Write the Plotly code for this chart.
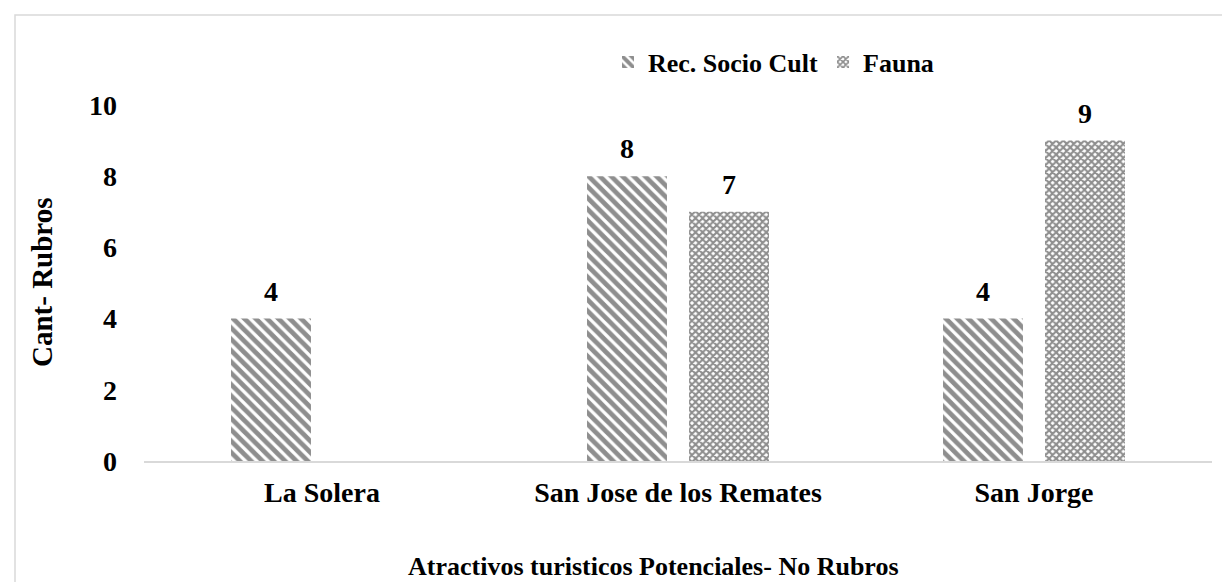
import plotly.graph_objects as go

categories = ["La Solera", "San Jose de los Remates", "San Jorge"]
rec_socio = [4, 8, 4]
fauna = [None, 7, 9]
series_names = ["Rec. Socio Cult", "Fauna"]
y_ticks = [0, 2, 4, 6, 8, 10]

FONT = "Liberation Serif"
W, H = 1230, 582
ML, MR, MT, MB = 136, 26, 97, 129
PW, PH = W - ML - MR, H - MT - MB
PAT = "#1e1e1e"

fig = go.Figure()
fig.add_trace(go.Bar(
    name=series_names[0], x=categories, y=rec_socio,
    marker=dict(color="white", line=dict(width=0),
                pattern=dict(shape="\\", fgcolor=PAT, bgcolor="white", size=8, solidity=0.6)),
))
fig.add_trace(go.Bar(
    name=series_names[1], x=categories, y=fauna,
    marker=dict(color="white", line=dict(width=0),
                pattern=dict(shape="x", fgcolor=PAT, bgcolor="white", size=5, solidity=0.65)),
))

# data labels
cat_w = PW / len(categories)
bargap, groupgap = 0.427, 0.216
slot = cat_w * (1 - bargap) / 2
annotations = []
for si, vals in enumerate([rec_socio, fauna]):
    shift = (si - 0.5) * slot
    for c, v in zip(categories, vals):
        if v is None:
            continue
        annotations.append(dict(x=c, y=v, xref="x", yref="y", text=str(v),
                                showarrow=False, xshift=shift, yanchor="bottom", yshift=10,
                                font=dict(family=FONT, size=28, color="black", weight="bold")))

annotations.append(dict(x=(645 - ML) / PW, y=-(MB - 24) / PH, xref="paper", yref="paper",
                        text="Atractivos turisticos Potenciales- No Rubros", showarrow=False,
                        xanchor="center", yanchor="middle",
                        font=dict(family=FONT, size=26, color="black", weight="bold")))
annotations.append(dict(x=(34 - ML) / PW, y=0.5, xref="paper", yref="paper",
                        text="Cant- Rubros", showarrow=False, textangle=-90,
                        xanchor="center", font=dict(family=FONT, size=29, color="black", weight="bold")))

fig.update_layout(
    width=W, height=H,
    margin=dict(l=ML, r=MR, t=MT, b=MB, autoexpand=False),
    paper_bgcolor="white", plot_bgcolor="white",
    barmode="group", bargap=bargap, bargroupgap=groupgap,
    showlegend=True,
    legend=dict(orientation="h", x=(600 - ML) / PW, xanchor="left", y=(MT - 54) / PH + 1,
                yanchor="middle", font=dict(family=FONT, size=26, color="black", weight="bold"),
                itemwidth=30, traceorder="normal", bgcolor="rgba(0,0,0,0)"),
    annotations=annotations,
    shapes=[dict(type="rect", xref="paper", yref="paper",
                 x0=(7 - ML) / PW, x1=1.2, y0=-0.6, y1=1 + (MT - 7) / PH,
                 line=dict(color="#d9d9d9", width=1.5), fillcolor="rgba(0,0,0,0)", layer="below")],
)
fig.update_xaxes(showline=True, linecolor="#d9d9d9", linewidth=1.5, showgrid=False,
                 ticks="", ticklabelstandoff=6,
                 tickfont=dict(family=FONT, size=28, color="black", weight="bold"))
fig.update_yaxes(range=[0, 10], tickvals=y_ticks,
                 showgrid=False, zeroline=False, showline=False, ticks="", ticklabelstandoff=26,
                 tickfont=dict(family=FONT, size=28, color="black", weight="bold"))

fig.write_html("out.html")
